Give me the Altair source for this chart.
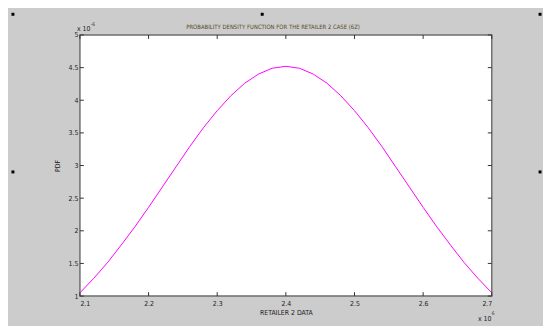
import altair as alt
import pandas as pd

# Curve values (x in units of 10^6, pdf in units of 10^-6)
x_vals = [2.10, 2.12, 2.14, 2.16, 2.18, 2.20, 2.22, 2.24, 2.26, 2.28, 2.30,
          2.32, 2.34, 2.36, 2.38, 2.40, 2.42, 2.44, 2.46, 2.48, 2.50,
          2.52, 2.54, 2.56, 2.58, 2.60, 2.62, 2.64, 2.66, 2.68, 2.70]
pdf_vals = [1.05, 1.27, 1.51, 1.78, 2.06, 2.36, 2.67, 2.98, 3.29, 3.58, 3.84,
            4.07, 4.26, 4.40, 4.49, 4.52, 4.49, 4.40, 4.26, 4.07, 3.84,
            3.58, 3.29, 2.98, 2.67, 2.36, 2.06, 1.78, 1.51, 1.27, 1.05]

x_ticks = [2.1, 2.2, 2.3, 2.4, 2.5, 2.6, 2.7]
y_ticks = [1, 1.5, 2, 2.5, 3, 3.5, 4, 4.5, 5]

title_text = "PROBABILITY DENSITY FUNCTION FOR THE RETAILER 2 CASE (6Z)"
x_title = "RETAILER 2 DATA"
y_title = "PDF"

FONT = "Liberation Sans Narrow, DejaVu Sans Condensed, Arial Narrow, sans-serif"
W, H = 418, 265

curve = pd.DataFrame({"x": x_vals, "pdf": pdf_vals})
xt = pd.DataFrame({"t": x_ticks})
yt = pd.DataFrame({"t": y_ticks})
one = pd.DataFrame({"a": [0]})

xscale = alt.Scale(domain=[2.1, 2.7], nice=False, zero=False)
yscale = alt.Scale(domain=[1, 5], nice=False, zero=False)

xaxis = alt.Axis(values=x_ticks, format="~g", title=x_title, tickSize=0, domain=False,
                 grid=False, labelOverlap=False, labelFont=FONT, labelFontSize=7,
                 labelColor="#222", labelPadding=4, titleFont=FONT, titleFontSize=7,
                 titleFontWeight="normal", titleColor="#222", titlePadding=2)
yaxis = alt.Axis(values=y_ticks, format="~g", title=y_title, tickSize=0, domain=False,
                 grid=False, labelOverlap=False, labelFont=FONT, labelFontSize=7,
                 labelColor="#222", labelPadding=2, titleFont=FONT, titleFontSize=7,
                 titleFontWeight="normal", titleColor="#222", titlePadding=8)

line = alt.Chart(curve).mark_line(color="#FF00FF", strokeWidth=1).encode(
    x=alt.X("x:Q", scale=xscale, axis=xaxis, title=x_title),
    y=alt.Y("pdf:Q", scale=yscale, axis=yaxis, title=y_title),
)

tick_col = "#333"
xb = alt.Chart(xt).mark_rule(color=tick_col, strokeWidth=1).encode(
    x=alt.X("t:Q", scale=xscale, axis=xaxis, title=x_title), y=alt.value(H), y2=alt.value(H - 4))
xtop = alt.Chart(xt).mark_rule(color=tick_col, strokeWidth=1).encode(
    x=alt.X("t:Q", scale=xscale, axis=xaxis, title=x_title), y=alt.value(0), y2=alt.value(4))
yl = alt.Chart(yt).mark_rule(color=tick_col, strokeWidth=1).encode(
    y=alt.Y("t:Q", scale=yscale, axis=yaxis, title=y_title), x=alt.value(0), x2=alt.value(4))
yr = alt.Chart(yt).mark_rule(color=tick_col, strokeWidth=1).encode(
    y=alt.Y("t:Q", scale=yscale, axis=yaxis, title=y_title), x=alt.value(W), x2=alt.value(W - 4))


def label(txt, x, y, size=7, color="#222", align="left"):
    return alt.Chart(one).mark_text(text=txt, font=FONT, fontSize=size, color=color,
                                    align=align, baseline="bottom").encode(
        x=alt.value(x), y=alt.value(y))


title = label(title_text, 196, -5, size=6, color="#5a4a2a", align="center")
exp_y = label("x 10", -3, -3)
exp_y_sup = label("-6", 11, -8, size=5)
exp_x = label("x 10", 404, H + 26)
exp_x_sup = label("6", 418, H + 20, size=5)

handles = []
for hx, hy in [(-68, -21), (185, -21), (467, -21), (-68, 139), (467, 139)]:
    handles.append(alt.Chart(one).mark_square(size=9, color="black", opacity=1, filled=True)
                   .encode(x=alt.value(hx), y=alt.value(hy)))

chart = alt.layer(line, xb, xtop, yl, yr, title, exp_y, exp_y_sup, exp_x, exp_x_sup,
                  *handles).properties(
    width=W, height=H,
    background="#cccccc",
    padding={"left": 73, "top": 25, "right": 52, "bottom": 28},
    autosize=alt.AutoSizeParams(type="none"),
).configure_view(fill="white", stroke="#6e6e6e", strokeWidth=1.5)

chart.save("out.html", embed_options={"renderer": "svg", "actions": False})
